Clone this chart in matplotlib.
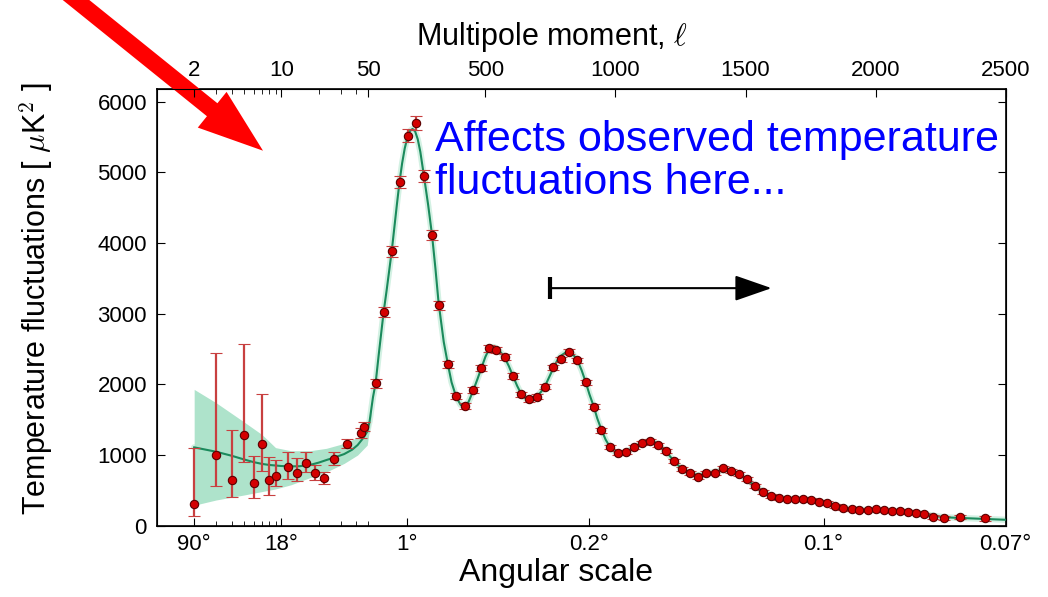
import numpy as np
import matplotlib
matplotlib.use("Agg")
import matplotlib.pyplot as plt

plt.rcParams["font.family"] = ["Liberation Sans", "DejaVu Sans"]
plt.rcParams["mathtext.fontset"] = "cm"

# low-l points (l, D_l, asymmetric errors)
ell_low = [2, 3, 4, 5, 6, 7, 8, 9, 11.3, 13.4, 15.8, 18.7, 22.1, 26.6, 34, 43.6, 46.5]
D_low = [303, 1004, 646, 1278, 600, 1160, 642, 707, 830, 750, 891, 750, 675, 943, 1156, 1316, 1400]
err_low_dn = [162, 438, 236, 381, 213, 382, 208, 141, 170, 118, 127, 104, 85, 84, 61, 71, 61]
err_low_up = [792, 1443, 708, 1288, 390, 698, 334, 222, 217, 203, 156, 109, 89, 95, 70, 62, 62]

# binned high-l points
ell_high = [78, 109, 140, 170, 202, 232, 264, 295, 320,
            356, 388, 420, 452, 485, 513, 542, 574, 606, 638,
            668, 698, 728, 760, 792, 822, 854, 885, 917, 946,
            978, 1008, 1040, 1070, 1102, 1132, 1164, 1193, 1224, 1256,
            1288, 1319, 1350, 1381, 1412, 1443, 1474, 1505, 1536, 1567,
            1597, 1629, 1660, 1691, 1722, 1752, 1783, 1814, 1845, 1875,
            1908, 1938, 1969, 2000, 2032, 2063, 2094, 2124, 2155, 2186,
            2222, 2263, 2324, 2420]
D_high = [2014, 3027, 3885, 4866, 5522, 5700, 4946, 4112, 3122,
          2283, 1839, 1693, 1919, 2235, 2509, 2485, 2391, 2122, 1863,
          1792, 1825, 1966, 2240, 2353, 2461, 2344, 2028, 1683, 1354,
          1117, 1024, 1038, 1117, 1174, 1202, 1141, 1057, 912, 798,
          741, 693, 750, 750, 811, 774, 726, 660, 561, 481,
          424, 387, 382, 378, 378, 364, 340, 325, 279, 246,
          236, 218, 226, 232, 218, 212, 212, 194, 184, 165,
          127, 105, 127, 105]
err_high = [60, 70, 80, 85, 95, 95, 85, 75, 65,
            55, 45, 40, 40, 40, 45, 45, 45, 40, 35,
            35, 35, 35, 35, 35, 35, 35, 35, 35, 35,
            30, 30, 30, 30, 30, 30, 30, 30, 30, 30,
            28, 28, 28, 28, 28, 28, 28, 28, 28, 28,
            25, 25, 25, 25, 25, 25, 25, 25, 25, 25,
            22, 22, 22, 22, 22, 22, 22, 22, 22, 22,
            25, 28, 30, 35]

# best-fit model curve
theory_ell = [2, 3, 4, 5, 6, 7, 8, 10, 12, 14,
              17, 20, 23, 27, 32, 37, 41, 45, 49, 55,
              61, 68, 78, 90, 100, 109, 120, 130, 140, 150,
              160, 170, 180, 190, 200, 210, 220, 230, 240, 250,
              264, 280, 295, 308, 320, 340, 356, 370, 388, 405,
              420, 435, 452, 470, 485, 500, 513, 530, 542, 560,
              574, 590, 606, 622, 638, 655, 668, 683, 698, 713,
              728, 745, 760, 775, 792, 810, 822, 838, 854, 870,
              885, 900, 917, 930, 946, 962, 978, 993, 1008, 1024,
              1040, 1070, 1102, 1132, 1150, 1164, 1193, 1224, 1256, 1288,
              1319, 1350, 1381, 1412, 1443, 1474, 1505, 1536, 1567, 1597,
              1629, 1660, 1691, 1722, 1752, 1783, 1814, 1845, 1875, 1908,
              1938, 1969, 2000, 2063, 2124, 2186, 2222, 2263, 2324, 2420,
              2500]
theory_D = [1109, 1047, 990, 939, 900, 875, 860, 845, 840, 842,
            860, 893, 929, 968, 1014, 1075, 1141, 1230, 1330, 1480,
            1636, 1820, 2014, 2420, 2740, 3027, 3320, 3600, 3885, 4220,
            4550, 4866, 5130, 5340, 5490, 5585, 5615, 5580, 5470, 5290,
            4946, 4540, 4112, 3640, 3160, 2600, 2283, 2030, 1820, 1710,
            1690, 1750, 1900, 2080, 2235, 2390, 2490, 2530, 2510, 2450,
            2380, 2260, 2122, 1980, 1863, 1800, 1785, 1795, 1830, 1890,
            1966, 2100, 2220, 2330, 2410, 2455, 2460, 2420, 2340, 2200,
            2040, 1860, 1683, 1520, 1360, 1220, 1120, 1055, 1030, 1025,
            1040, 1105, 1170, 1200, 1185, 1145, 1055, 920, 800, 735,
            715, 735, 765, 785, 770, 725, 655, 565, 485, 428,
            392, 380, 376, 372, 362, 342, 320, 285, 252, 235,
            226, 224, 222, 210, 192, 168, 142, 120, 110, 96,
            84]

# cosmic variance band at low l
band_ell = [2, 3, 5, 7, 9, 12, 17, 23, 32, 41, 49, 56, 62]
band_lo = [290, 364, 434, 483, 520, 580, 680, 760, 882, 1000, 1141, 1400, 1560]
band_hi = [1929, 1740, 1471, 1290, 1105, 1061, 1061, 1095, 1165, 1250, 1354, 1570, 1720]

bottom_ticks = [2, 10, 200, 900, 1800, 2500]
bottom_labels = ["90°", "18°", "1°", "0.2°", "0.1°", "0.07°"]
top_ticks = [2, 10, 50, 500, 1000, 1500, 2000, 2500]
minor_log = [3, 4, 5, 6, 7, 8, 9, 20, 30, 40]

# hybrid axis: log below l=50, linear above
LOG_W = 124.5
LIN_W = 0.26


def fwd(l):
    l = np.asarray(l, dtype=float)
    lc = np.clip(l, 1e-3, None)
    return np.where(l < 50, LOG_W * np.log10(lc / 50.0), LIN_W * (l - 50.0))


def inv(u):
    u = np.asarray(u, dtype=float)
    return np.where(u < 0, 50.0 * 10 ** (np.minimum(u, 0) / LOG_W), 50.0 + u / LIN_W)


fig = plt.figure(figsize=(10.48, 5.97), dpi=100)
ax = fig.add_axes([0.1495, 0.1194, 0.8101, 0.7315])
ax.set_xscale("function", functions=(fwd, inv))
ax.set_xlim(1, 2500)
ax.set_ylim(0, 6180)

# faint halo under the model line, band drawn over it at low l
ax.plot(theory_ell, theory_D, color="#d3f1e3", lw=4.5, solid_capstyle="round", zorder=1)
ax.fill_between(band_ell, band_lo, band_hi, color="#aee3cb", lw=0, zorder=2)
ax.plot(theory_ell, theory_D, color="#1b8a5c", lw=1.5, zorder=3)

eb_kw = dict(fmt="o", ms=6, mfc="#d40000", mec="#5a0000", mew=0.8,
             ecolor="#c84040", elinewidth=1.6, capsize=4, capthick=1.3, zorder=4)
ax.errorbar(ell_low, D_low, yerr=[err_low_dn, err_low_up], **eb_kw)
ax.errorbar(ell_high, D_high, yerr=err_high, **eb_kw)

ax.set_xticks(bottom_ticks, labels=bottom_labels)
ax.set_xticks(minor_log + [50], minor=True)
ax.set_yticks(range(0, 7000, 1000))
ax.tick_params(axis="both", which="both", direction="in", labelsize=16, top=False)
ax.tick_params(axis="y", right=True, length=6, pad=7)
ax.tick_params(axis="x", which="major", length=6, pad=6)
ax.tick_params(axis="x", which="minor", length=3.5)
for s in ax.spines.values():
    s.set_linewidth(1.2)

ax2 = ax.twiny()
ax2.set_xscale("function", functions=(fwd, inv))
ax2.set_xlim(1, 2500)
ax2.set_xticks(top_ticks, labels=[str(t) for t in top_ticks])
ax2.set_xticks(minor_log, minor=True)
ax2.tick_params(axis="x", which="both", direction="in", labelsize=16, pad=6)
ax2.tick_params(axis="x", which="major", length=6)
ax2.tick_params(axis="x", which="minor", length=3.5)

ax.set_xlabel("Angular scale", fontsize=23)
ax.xaxis.set_label_coords(0.47, -0.075)
ax2.set_xlabel(r"Multipole moment, $\ell$", fontsize=22)
ax2.xaxis.set_label_coords(0.465, 1.10)
ax.set_ylabel(r"Temperature fluctuations [ $\mu$K$^{\mathsf{2}}$ ]", fontsize=22)
ax.yaxis.set_label_coords(-0.12, 0.52)

# annotations
fig.text(435 / 1048, 1 - 120 / 597, "Affects observed temperature\nfluctuations here...",
         color="#0000ff", fontsize=31, va="top", ha="left", linespacing=1.1)

ax.annotate("", xy=(263, 446.3), xycoords="figure pixels",
            xytext=(45, 622), textcoords="figure pixels",
            arrowprops=dict(facecolor="#ff0000", edgecolor="none", width=12,
                            headwidth=33, headlength=47, shrink=0),
            annotation_clip=False)

ax.annotate("", xy=(1600, 3362), xytext=(748, 3362),
            arrowprops=dict(arrowstyle="-|>,head_length=2.3,head_width=0.8",
                            color="black", lw=1.5, mutation_scale=10, shrinkA=0, shrinkB=0))
ax.plot([748, 748], [3207, 3517], color="black", lw=3, solid_capstyle="butt", zorder=5)

fig.savefig("out.png", dpi=100)
